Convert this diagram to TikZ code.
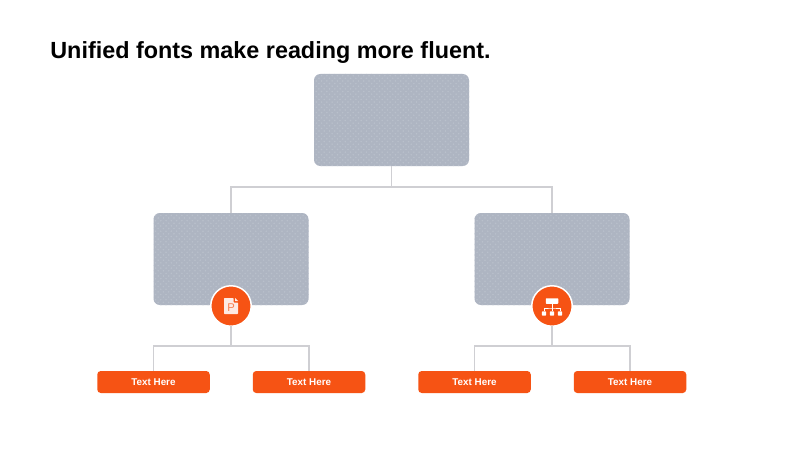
\documentclass[tikz,border=0pt]{standalone}
\usepackage{fontspec}
\setmainfont{Liberation Sans}
\usetikzlibrary{patterns}
\definecolor{slatebox}{HTML}{AEB5C2}
\definecolor{slatedot}{HTML}{B9C0CB}
\definecolor{orangebox}{HTML}{F65314}
\definecolor{linkgray}{HTML}{CFCFD3}

\begin{document}
\begin{tikzpicture}[
    panel/.style={rectangle,rounded corners=3.6pt,minimum width=3.1cm,minimum height=1.84cm,inner sep=0pt,outer sep=0pt,fill=slatebox,postaction={pattern=crosshatch dots,pattern color=slatedot}},
    badge/.style={circle,draw=white,line width=1.5*0.02cm,fill=orangebox,minimum size=0.81cm,inner sep=0pt,outer sep=0pt},
    tag/.style={rectangle,rounded corners=2pt,minimum width=2.25cm,minimum height=0.44cm,inner sep=0pt,outer sep=0pt,fill=orangebox,text=white,font=\fontsize{5.6}{7}\selectfont\bfseries},
    link/.style={draw=linkgray,line width=0.75pt},
    netbox/.style={rectangle,fill=white,rounded corners=0.3pt,inner sep=0pt,outer sep=0pt},
  ]
   \useasboundingbox (0,0) rectangle (16,9);
   \fill[white] (0,0) rectangle (16,9);

   \node[anchor=west,inner sep=0pt,font=\fontsize{13.3}{16}\selectfont\bfseries] (title) at (1,7.95) {Unified fonts make reading more fluent.};

   \node[panel] (top) at (7.83,6.6) {};
   \node[panel] (left) at (4.62,3.82) {};
   \node[panel] (right) at (11.04,3.82) {};

   \coordinate (j0) at (7.83,5.26);
   \coordinate (j1) at (4.62,2.08);
   \coordinate (j2) at (11.04,2.08);

   \begin{scope}
    \node[tag] (t1) at (3.07,1.36) {Text Here};
    \node[tag] (t2) at (6.18,1.36) {Text Here};
    \node[tag] (t3) at (9.49,1.36) {Text Here};
    \node[tag] (t4) at (12.6,1.36) {Text Here};
   \end{scope}

\draw[link] (top) -- (j0);
\draw[link] (left.north) |- (j0) -| (right.north);
\draw[link] (t1.north) |- (j1) -| (t2.north);
\draw[link] (t3.north) |- (j2) -| (t4.north);

   \node[badge] (bl) at (4.62,2.88) {};
   \node[badge] (br) at (11.04,2.88) {};
\draw[link] (bl) -- (j1);
\draw[link] (br) -- (j2);

   \begin{scope}[shift={(bl.center)}]
    \fill[white!88!orangebox,rounded corners=0.4pt] (-0.14,-0.16) -- (-0.14,0.16) -- (0.05,0.16) -- (0.05,0.07) -- (0.14,0.07) -- (0.14,-0.16) -- cycle;
    \fill[white!88!orangebox] (0.08,0.16) -- (0.14,0.1) -- (0.08,0.1) -- cycle;
    \node[text=orangebox!75!white,inner sep=0pt,font=\fontsize{6.4}{7}\selectfont] (plabel) at (0,-0.04) {P};
   \end{scope}

   \begin{scope}[shift={(br.center)}]
    \node[netbox,minimum width=0.25cm,minimum height=0.11cm] (n0) at (0,0.1) {};
    \node[netbox,minimum size=0.085cm] (n1) at (-0.16,-0.15) {};
    \node[netbox,minimum size=0.085cm] (n2) at (0,-0.15) {};
    \node[netbox,minimum size=0.085cm] (n3) at (0.16,-0.15) {};
    \coordinate (nj) at (0,-0.04);
    \draw[white,line width=0.4pt] (n0) -- (n2);
    \draw[white,line width=0.4pt] (n1) |- (nj) -| (n3);
   \end{scope}
\end{tikzpicture}
\end{document}
